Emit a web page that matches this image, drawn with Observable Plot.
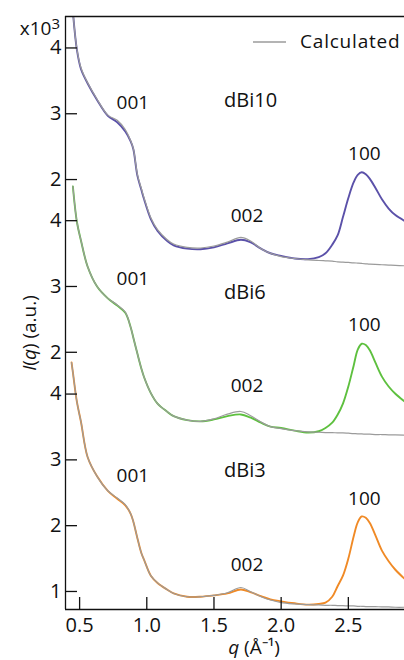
<!DOCTYPE html>
<html><head><meta charset="utf-8">
<script src="https://cdn.jsdelivr.net/npm/d3@7"></script>
<script src="https://cdn.jsdelivr.net/npm/@observablehq/plot@0.6"></script>
<style>
html,body{margin:0;padding:0;background:#fff;}
#chart svg{font-family:"Open Sans",sans-serif;display:block;}
#chart svg text{font-weight:500;}
</style></head><body><div id="chart"></div>
<script>
// q grid (Å^-1)
const q = [0.44,0.45,0.48,0.51,0.56,0.63,0.71,0.78,0.84,0.88,0.90,0.93,0.96,0.98,1.03,1.08,1.15,1.20,1.30,1.40,1.50,1.60,1.70,1.77,1.85,1.92,2.00,2.10,2.20,2.28,2.33,2.38,2.42,2.46,2.50,2.54,2.57,2.60,2.63,2.66,2.70,2.75,2.80,2.85,2.92];

// measured intensities (x10^3, a.u.)
const dBi10 = [null,4.55,3.97,3.68,3.46,3.21,2.97,2.87,2.73,2.58,2.46,2.06,1.84,1.70,1.40,1.22,1.07,1.00,0.95,0.94,0.97,1.03,1.085,1.05,0.95,0.88,0.84,0.80,0.79,0.82,0.88,1.01,1.15,1.43,1.72,1.96,2.07,2.11,2.08,2.01,1.88,1.70,1.56,1.46,1.37];
const dBi6  = [null,4.52,3.98,3.70,3.30,3.00,2.82,2.71,2.60,2.38,2.22,1.98,1.75,1.62,1.38,1.22,1.10,1.03,0.97,0.95,0.98,1.03,1.055,1.01,0.93,0.87,0.85,0.81,0.78,0.80,0.85,0.93,1.05,1.22,1.48,1.80,2.04,2.13,2.11,2.03,1.85,1.63,1.48,1.37,1.25];
const dBi3  = [4.48,4.33,3.88,3.58,3.04,2.75,2.53,2.41,2.31,2.18,2.06,1.81,1.58,1.48,1.24,1.13,1.03,0.97,0.92,0.92,0.94,0.97,1.03,0.99,0.93,0.88,0.85,0.82,0.80,0.81,0.83,0.92,1.08,1.24,1.50,1.84,2.05,2.14,2.12,2.04,1.86,1.62,1.46,1.33,1.19];

// calculated intensities
const dBi10Calc = [null,4.55,3.98,3.70,3.47,3.22,2.98,2.90,2.76,2.59,2.47,2.08,1.86,1.72,1.42,1.24,1.09,1.02,0.97,0.96,0.99,1.05,1.12,1.07,0.95,0.88,0.83,0.80,0.78,0.77,0.765,0.76,0.75,0.745,0.74,0.735,0.73,0.725,0.72,0.715,0.71,0.705,0.70,0.695,0.69];
const dBi6Calc  = [null,4.52,3.98,3.70,3.30,3.00,2.82,2.72,2.61,2.38,2.22,1.98,1.75,1.62,1.38,1.22,1.10,1.03,0.97,0.95,0.99,1.06,1.10,1.04,0.94,0.87,0.84,0.81,0.79,0.785,0.78,0.78,0.775,0.775,0.77,0.765,0.76,0.76,0.755,0.755,0.75,0.75,0.745,0.745,0.74];
const dBi3Calc  = [4.48,4.33,3.88,3.58,3.04,2.75,2.53,2.42,2.32,2.18,2.06,1.81,1.58,1.48,1.24,1.13,1.03,0.97,0.92,0.92,0.94,0.98,1.06,1.00,0.92,0.87,0.83,0.81,0.80,0.795,0.79,0.79,0.785,0.785,0.78,0.78,0.775,0.775,0.77,0.77,0.77,0.765,0.765,0.76,0.76];

const seriesNames = ["dBi10","dBi6","dBi3"];
const measured = {dBi10, dBi6, dBi3};
const calculated = {dBi10: dBi10Calc, dBi6: dBi6Calc, dBi3: dBi3Calc};
const offsets = {dBi10: 5.26, dBi6: 2.635, dBi3: 0};
const colors = {dBi10: "#5b51a9", dBi6: "#5ec03f", dBi3: "#f08a26"};
const calcColor = "#9b9b9b";

// y tick labels per series
const yTickLabels = {dBi3: [1,2,3,4], dBi6: [2,3,4], dBi10: [2,3,4]};
const xTicks = [0.5, 1.0, 1.5, 2.0, 2.5];
const xDomain = [0.395, 2.918];
const yDomain = [0.726, 9.738];

// annotations (q, intensity within its series)
const annText   = ["001","002","100","001","002","100","001","002","100"];
const annSeries = ["dBi10","dBi10","dBi10","dBi6","dBi6","dBi6","dBi3","dBi3","dBi3"];
const annQ      = [0.896,1.746,2.619,0.896,1.746,2.619,0.896,1.746,2.619];
const annV      = [3.17,1.45,2.39,3.11,1.49,2.41,2.75,1.40,2.41];
const nameQ = 1.575;
const nameV = {dBi10: 3.20, dBi6: 2.90, dBi3: 2.84};

function rows(src) {
  const out = [];
  for (const s of seriesNames) {
    src[s].forEach((v, i) => out.push({series: s, q: q[i], y: v == null ? null : v + offsets[s]}));
  }
  return out;
}
const measRows = rows(measured);
const calcRows = rows(calculated);

const yTickVals = [], yTickMap = new Map();
for (const s of ["dBi3","dBi6","dBi10"]) {
  for (const t of yTickLabels[s]) {
    const v = +(t + offsets[s]).toFixed(4);
    yTickVals.push(v); yTickMap.set(v, String(t));
  }
}
const annRows = annText.map((t, i) => ({text: t, q: annQ[i], y: annV[i] + offsets[annSeries[i]]}));
const nameRows = seriesNames.map(s => ({text: s, q: nameQ, y: nameV[s] + offsets[s]}));

const FS = 19;
const plot = Plot.plot({
  width: 404, height: 660,
  marginLeft: 65, marginRight: 0, marginTop: 16, marginBottom: 51,
  style: {fontSize: FS + "px", fontFamily: "'Open Sans', sans-serif", color: "#111", background: "#fff"},
  x: {domain: xDomain},
  y: {domain: yDomain},
  marks: [
    ...seriesNames.map(s => Plot.line(measRows.filter(d => d.series === s), {x: "q", y: "y", stroke: colors[s], strokeWidth: 1.9, curve: "catmull-rom", clip: true})),
    ...seriesNames.map(s => Plot.line(calcRows.filter(d => d.series === s), {x: "q", y: "y", stroke: calcColor, strokeWidth: 1.2, curve: "catmull-rom", clip: true})),
    Plot.text(annRows, {x: "q", y: "y", text: "text", textAnchor: "middle", fill: "#111", fontSize: FS}),
    Plot.text(nameRows, {x: "q", y: "y", text: "text", textAnchor: "start", fill: "#111", fontSize: FS + 1}),
    Plot.axisY({ticks: yTickVals, tickSize: -12, tickPadding: 16, strokeWidth: 1.3, fontSize: FS + 1, tickFormat: d => yTickMap.get(+d.toFixed(4)), label: null}),
    Plot.axisX({ticks: xTicks, tickSize: -12, tickPadding: 20, strokeWidth: 1.3, fontSize: FS + 1, tickFormat: d3.format(".1f"), label: null}),
    Plot.ruleX([xDomain[0]], {stroke: "#111", strokeWidth: 1.3}),
    Plot.ruleY([yDomain[0], yDomain[1]], {stroke: "#111", strokeWidth: 1.3})
  ]
});
document.getElementById("chart").appendChild(plot);

const svg = d3.select(plot);
// multiplier
const mult = svg.append("text").attr("x", 60).attr("y", 35).attr("text-anchor", "end").attr("font-size", 19).attr("fill", "#111");
mult.append("tspan").text("x10");
mult.append("tspan").attr("font-size", 15).attr("dy", -6).text("3");
// y label
const yl = svg.append("text").attr("transform", "translate(36,333) rotate(-90)").attr("text-anchor", "middle").attr("font-size", FS).attr("fill", "#111");
yl.append("tspan").attr("font-style", "italic").text("I");
yl.append("tspan").text("(");
yl.append("tspan").attr("font-style", "italic").text("q");
yl.append("tspan").text(") (a.u.)");
// x label
const xl = svg.append("text").attr("x", 254).attr("y", 654).attr("text-anchor", "middle").attr("font-size", FS).attr("fill", "#111");
xl.append("tspan").attr("font-style", "italic").text("q");
xl.append("tspan").text(" (Å⁻¹)");
// legend
svg.append("line").attr("x1", 253).attr("x2", 286).attr("y1", 42).attr("y2", 42).attr("stroke", calcColor).attr("stroke-width", 1.5);
svg.append("text").attr("x", 300).attr("y", 48).attr("text-anchor", "start").attr("font-size", FS).attr("fill", "#111").attr("letter-spacing", 0.8).text("Calculated");
</script></body></html>
